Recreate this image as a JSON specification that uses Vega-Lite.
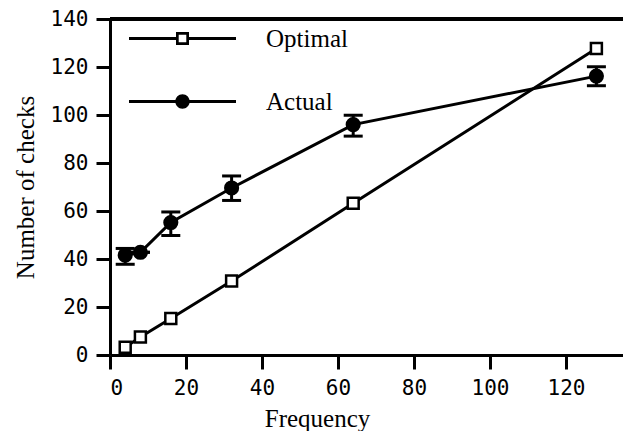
{
  "$schema": "https://vega.github.io/schema/vega-lite/v6.json",
  "width": 513,
  "height": 336,
  "autosize": {"type": "none"},
  "padding": {"left": 110, "top": 19, "right": 0, "bottom": 76},
  "background": "white",
  "config": {
    "view": {"stroke": null},
    "axis": {
      "domainColor": "black", "domainWidth": 3,
      "tickColor": "black", "tickWidth": 3, "tickSize": 14,
      "grid": false,
      "labelFont": "DejaVu Sans Mono", "labelFontSize": 21, "labelColor": "black",
      "titleFont": "Liberation Serif", "titleFontSize": 25, "titleFontWeight": "normal", "titleColor": "black"
    }
  },
  "datasets": {
    "pts": [
      {"series": "Optimal", "f": 4, "n": 3.2},
      {"series": "Optimal", "f": 8, "n": 7.5},
      {"series": "Optimal", "f": 16, "n": 15.2},
      {"series": "Optimal", "f": 32, "n": 30.8},
      {"series": "Optimal", "f": 64, "n": 63.2},
      {"series": "Optimal", "f": 128, "n": 127.7},
      {"series": "Actual", "f": 4, "n": 41.6, "lo": 37.8, "hi": 44.4},
      {"series": "Actual", "f": 8, "n": 42.8, "lo": 42.8, "hi": 42.8},
      {"series": "Actual", "f": 16, "n": 55.2, "lo": 49.8, "hi": 59.6},
      {"series": "Actual", "f": 32, "n": 69.6, "lo": 64.4, "hi": 74.6},
      {"series": "Actual", "f": 64, "n": 96, "lo": 91.2, "hi": 99.9},
      {"series": "Actual", "f": 128, "n": 116.2, "lo": 112.2, "hi": 120.1}
    ]
  },
  "data": {"name": "pts"},
  "layer": [
    {
      "mark": {"type": "rule", "color": "black", "strokeWidth": 3},
      "encoding": {"y": {"datum": 140, "type": "quantitative"}}
    },
    {
      "mark": {"type": "line", "color": "black", "strokeWidth": 3},
      "encoding": {
        "x": {"field": "f", "type": "quantitative", "scale": {"domain": [0, 135], "nice": false}, "title": "Frequency",
          "axis": {"values": [0, 20, 40, 60, 80, 100, 120], "labelPadding": 8, "titlePadding": 8, "titleX": 207}},
        "y": {"field": "n", "type": "quantitative", "scale": {"domain": [0, 140], "nice": false}, "title": "Number of checks",
          "axis": {"values": [0, 20, 40, 60, 80, 100, 120, 140], "labelPadding": 8, "titlePadding": 12}},
        "detail": {"field": "series"}
      }
    },
    {
      "transform": [{"filter": "datum.series === 'Actual'"}],
      "mark": {"type": "errorbar", "color": "black", "thickness": 3,
        "rule": {"color": "black", "opacity": 1},
        "ticks": {"size": 19, "color": "black", "opacity": 1}},
      "encoding": {
        "x": {"field": "f", "type": "quantitative"},
        "y": {"field": "lo", "type": "quantitative", "title": "Number of checks"},
        "y2": {"field": "hi"}
      }
    },
    {
      "mark": {"type": "point", "stroke": "black", "strokeWidth": 2.5, "opacity": 1},
      "encoding": {
        "x": {"field": "f", "type": "quantitative"},
        "y": {"field": "n", "type": "quantitative"},
        "shape": {"field": "series", "type": "nominal", "scale": {"domain": ["Optimal", "Actual"], "range": ["square", "circle"]}, "legend": null},
        "fill": {"field": "series", "type": "nominal", "scale": {"domain": ["Optimal", "Actual"], "range": ["white", "black"]}, "legend": null},
        "size": {"field": "series", "type": "ordinal", "scale": {"domain": ["Optimal", "Actual"], "range": [120, 160]}, "legend": null}
      }
    },
    {
      "transform": [{"filter": "false"}],
      "mark": {"type": "point", "filled": true, "color": "black", "size": 400, "opacity": 1},
      "encoding": {
        "x": {"field": "f", "type": "quantitative"},
        "y": {"field": "n", "type": "quantitative"},
        "shape": {
          "field": "series", "type": "nominal",
          "scale": {"domain": ["Optimal", "Actual"], "range": [
            "M-5.35,-0.15L-0.65,-0.15L-0.65,0.15L-5.35,0.15ZM0.65,-0.15L5.35,-0.15L5.35,0.15L0.65,0.15ZM-0.65,-0.65L0.65,-0.65L0.65,0.65L-0.65,0.65ZM-0.38,-0.38L-0.38,0.38L0.38,0.38L0.38,-0.38Z",
            "M-5.35,-0.15L5.35,-0.15L5.35,0.15L-5.35,0.15ZM-0.72,0A0.72,0.72,0,1,1,0.72,0A0.72,0.72,0,1,1,-0.72,0Z"
          ]},
          "legend": {
            "title": null, "orient": "none", "legendX": 60, "legendY": 7, "padding": 0,
            "symbolSize": 400, "symbolFillColor": "black", "symbolOpacity": 1,
            "symbolOffset": 0, "labelOffset": 71,
            "labelFont": "Liberation Serif", "labelFontSize": 25, "labelColor": "black", "labelLimit": 300,
            "rowPadding": 37
          }
        }
      }
    }
  ],
  "resolve": {"scale": {"shape": "independent", "size": "independent"}, "legend": {"shape": "independent"}}
}
